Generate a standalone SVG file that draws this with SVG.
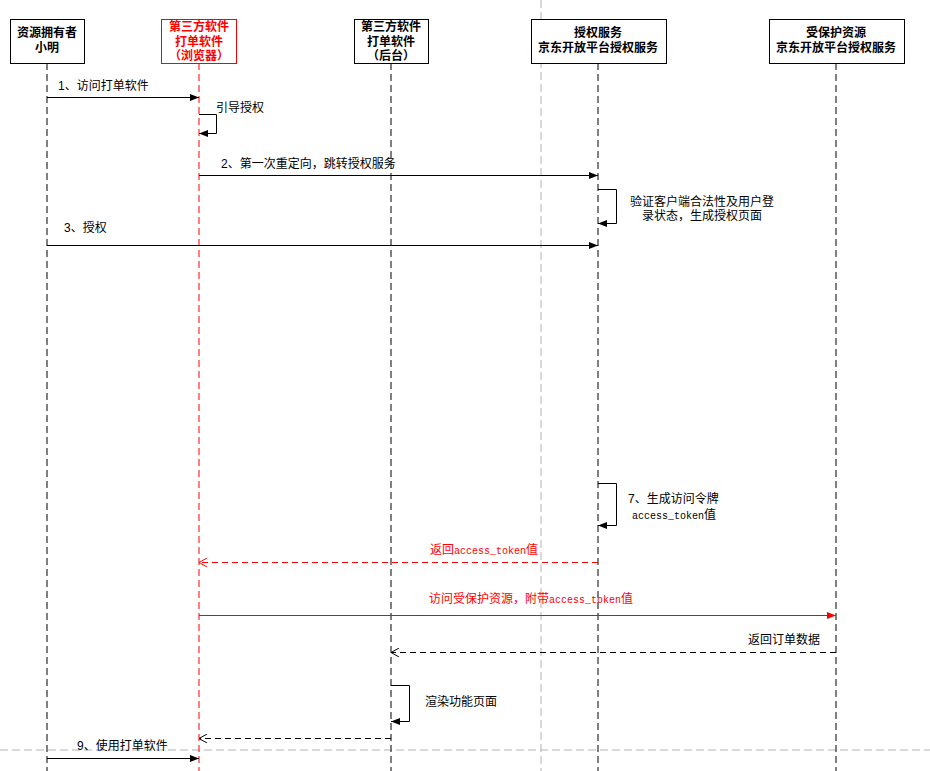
<svg xmlns="http://www.w3.org/2000/svg" width="930" height="771" viewBox="0 0 930 771">
<style>
text{font-family:"Liberation Sans","Noto Sans CJK SC",sans-serif;font-size:12px;fill:#000}
.hd{font-weight:bold;text-anchor:middle}
.red{fill:#ff0000}
.mono{font-family:"Liberation Mono","Noto Sans CJK SC",monospace;font-size:10px}
.box{fill:#fff;stroke:#000;stroke-width:1}
.life{stroke:#000;stroke-width:1;stroke-dasharray:7,4;fill:none}
.msg{stroke:#000;stroke-width:1;fill:none}
.ret{stroke:#000;stroke-width:1;fill:none;stroke-dasharray:6,4}
.guide{stroke:#b3b3b3;stroke-width:1;stroke-dasharray:8,4;fill:none}
</style>
<defs>
<marker id="fa" viewBox="0 0 10 10" refX="10" refY="5" markerWidth="9" markerHeight="9" markerUnits="userSpaceOnUse" orient="auto"><path d="M0,1 L10,5 L0,9 Z" fill="#000"/></marker>
<marker id="far" viewBox="0 0 10 10" refX="10" refY="5" markerWidth="9" markerHeight="9" markerUnits="userSpaceOnUse" orient="auto"><path d="M0,1 L10,5 L0,9 Z" fill="#ff0000"/></marker>
<marker id="oa" viewBox="0 0 10 10" refX="10" refY="5" markerWidth="9" markerHeight="9" markerUnits="userSpaceOnUse" orient="auto"><path d="M1,0 L10,5 L1,10" fill="none" stroke="#000" stroke-width="1.1"/></marker>
<marker id="oar" viewBox="0 0 10 10" refX="10" refY="5" markerWidth="9" markerHeight="9" markerUnits="userSpaceOnUse" orient="auto"><path d="M1,0 L10,5 L1,10" fill="none" stroke="#ff0000" stroke-width="1.1"/></marker>
</defs>
<rect width="930" height="771" fill="#fff"/>
<g id="guides">
<line class="guide" x1="541" y1="0" x2="541" y2="771"/>
<line class="guide" x1="0" y1="750" x2="930" y2="750"/>
</g>
<g id="lifelines">
<line class="life" x1="47" y1="63" x2="47" y2="771"/>
<line class="life" x1="199" y1="63" x2="199" y2="771" style="stroke:#ff0000"/>
<line class="life" x1="391" y1="63" x2="391" y2="771"/>
<line class="life" x1="598" y1="63" x2="598" y2="771"/>
<line class="life" x1="836" y1="63" x2="836" y2="771"/>
</g>
<g id="node-owner">
<rect class="box" x="10.5" y="19.5" width="74" height="44"/>
<text class="hd" x="47" y="37">资源拥有者</text>
<text class="hd" x="47" y="52">小明</text>
</g>
<g id="node-browser">
<rect class="box" x="161.5" y="19.5" width="75" height="44" style="stroke:#ff0000"/>
<text class="hd red" x="199" y="31">第三方软件</text>
<text class="hd red" x="199" y="45.5">打单软件</text>
<text class="hd red" x="199" y="60">（浏览器）</text>
</g>
<g id="node-backend">
<rect class="box" x="354.5" y="19.5" width="74" height="44"/>
<text class="hd" x="391" y="31">第三方软件</text>
<text class="hd" x="391" y="45.5">打单软件</text>
<text class="hd" x="391" y="60">（后台）</text>
</g>
<g id="node-auth">
<rect class="box" x="531.5" y="19.5" width="135" height="44"/>
<text class="hd" x="598" y="37">授权服务</text>
<text class="hd" x="598" y="52">京东开放平台授权服务</text>
</g>
<g id="node-resource">
<rect class="box" x="769.5" y="19.5" width="135" height="44"/>
<text class="hd" x="836" y="37">受保护资源</text>
<text class="hd" x="836" y="52">京东开放平台授权服务</text>
</g>
<g id="connectors">
<line class="msg" x1="47" y1="97.5" x2="199" y2="97.5" marker-end="url(#fa)"/>
<text x="58" y="90">1、访问打单软件</text>
<path class="msg" d="M199,114.5 H216.5 V133.5 H199" marker-end="url(#fa)"/>
<text x="216" y="112">引导授权</text>
<line class="msg" x1="199" y1="175.5" x2="598" y2="175.5" marker-end="url(#fa)"/>
<text x="221" y="168">2、第一次重定向，跳转授权服务</text>
<path class="msg" d="M598,189.5 H616.5 V223.5 H598" marker-end="url(#fa)"/>
<text x="702" y="206" text-anchor="middle">验证客户端合法性及用户登</text>
<text x="702" y="220" text-anchor="middle">录状态，生成授权页面</text>
<line class="msg" x1="47" y1="245.5" x2="598" y2="245.5" marker-end="url(#fa)"/>
<text x="64" y="232">3、授权</text>
<path class="msg" d="M598,483.5 H616.5 V525.5 H598" marker-end="url(#fa)"/>
<text x="628" y="503">7、生成访问令牌</text>
<text x="632" y="519"><tspan class="mono">access_token</tspan>值</text>
<line class="ret" x1="598" y1="562.5" x2="199" y2="562.5" style="stroke:#ff0000" marker-end="url(#oar)"/>
<text class="red" x="484" y="554" text-anchor="middle">返回<tspan class="mono red">access_token</tspan>值</text>
<line class="msg" x1="199" y1="615.5" x2="836" y2="615.5" style="stroke:#ff0000" marker-end="url(#far)"/>
<text class="red" x="531" y="603" text-anchor="middle">访问受保护资源，附带<tspan class="mono red">access_token</tspan>值</text>
<line class="ret" x1="836" y1="652.5" x2="391" y2="652.5" marker-end="url(#oa)"/>
<text x="820" y="644" text-anchor="end">返回订单数据</text>
<path class="msg" d="M391,685.5 H409.5 V721.5 H391" marker-end="url(#fa)"/>
<text x="425" y="706">渲染功能页面</text>
<line class="ret" x1="391" y1="738.5" x2="199" y2="738.5" marker-end="url(#oa)"/>
<line class="msg" x1="47" y1="758.5" x2="199" y2="758.5" marker-end="url(#fa)"/>
<text x="77" y="750">9、使用打单软件</text>
</g>
</svg>
